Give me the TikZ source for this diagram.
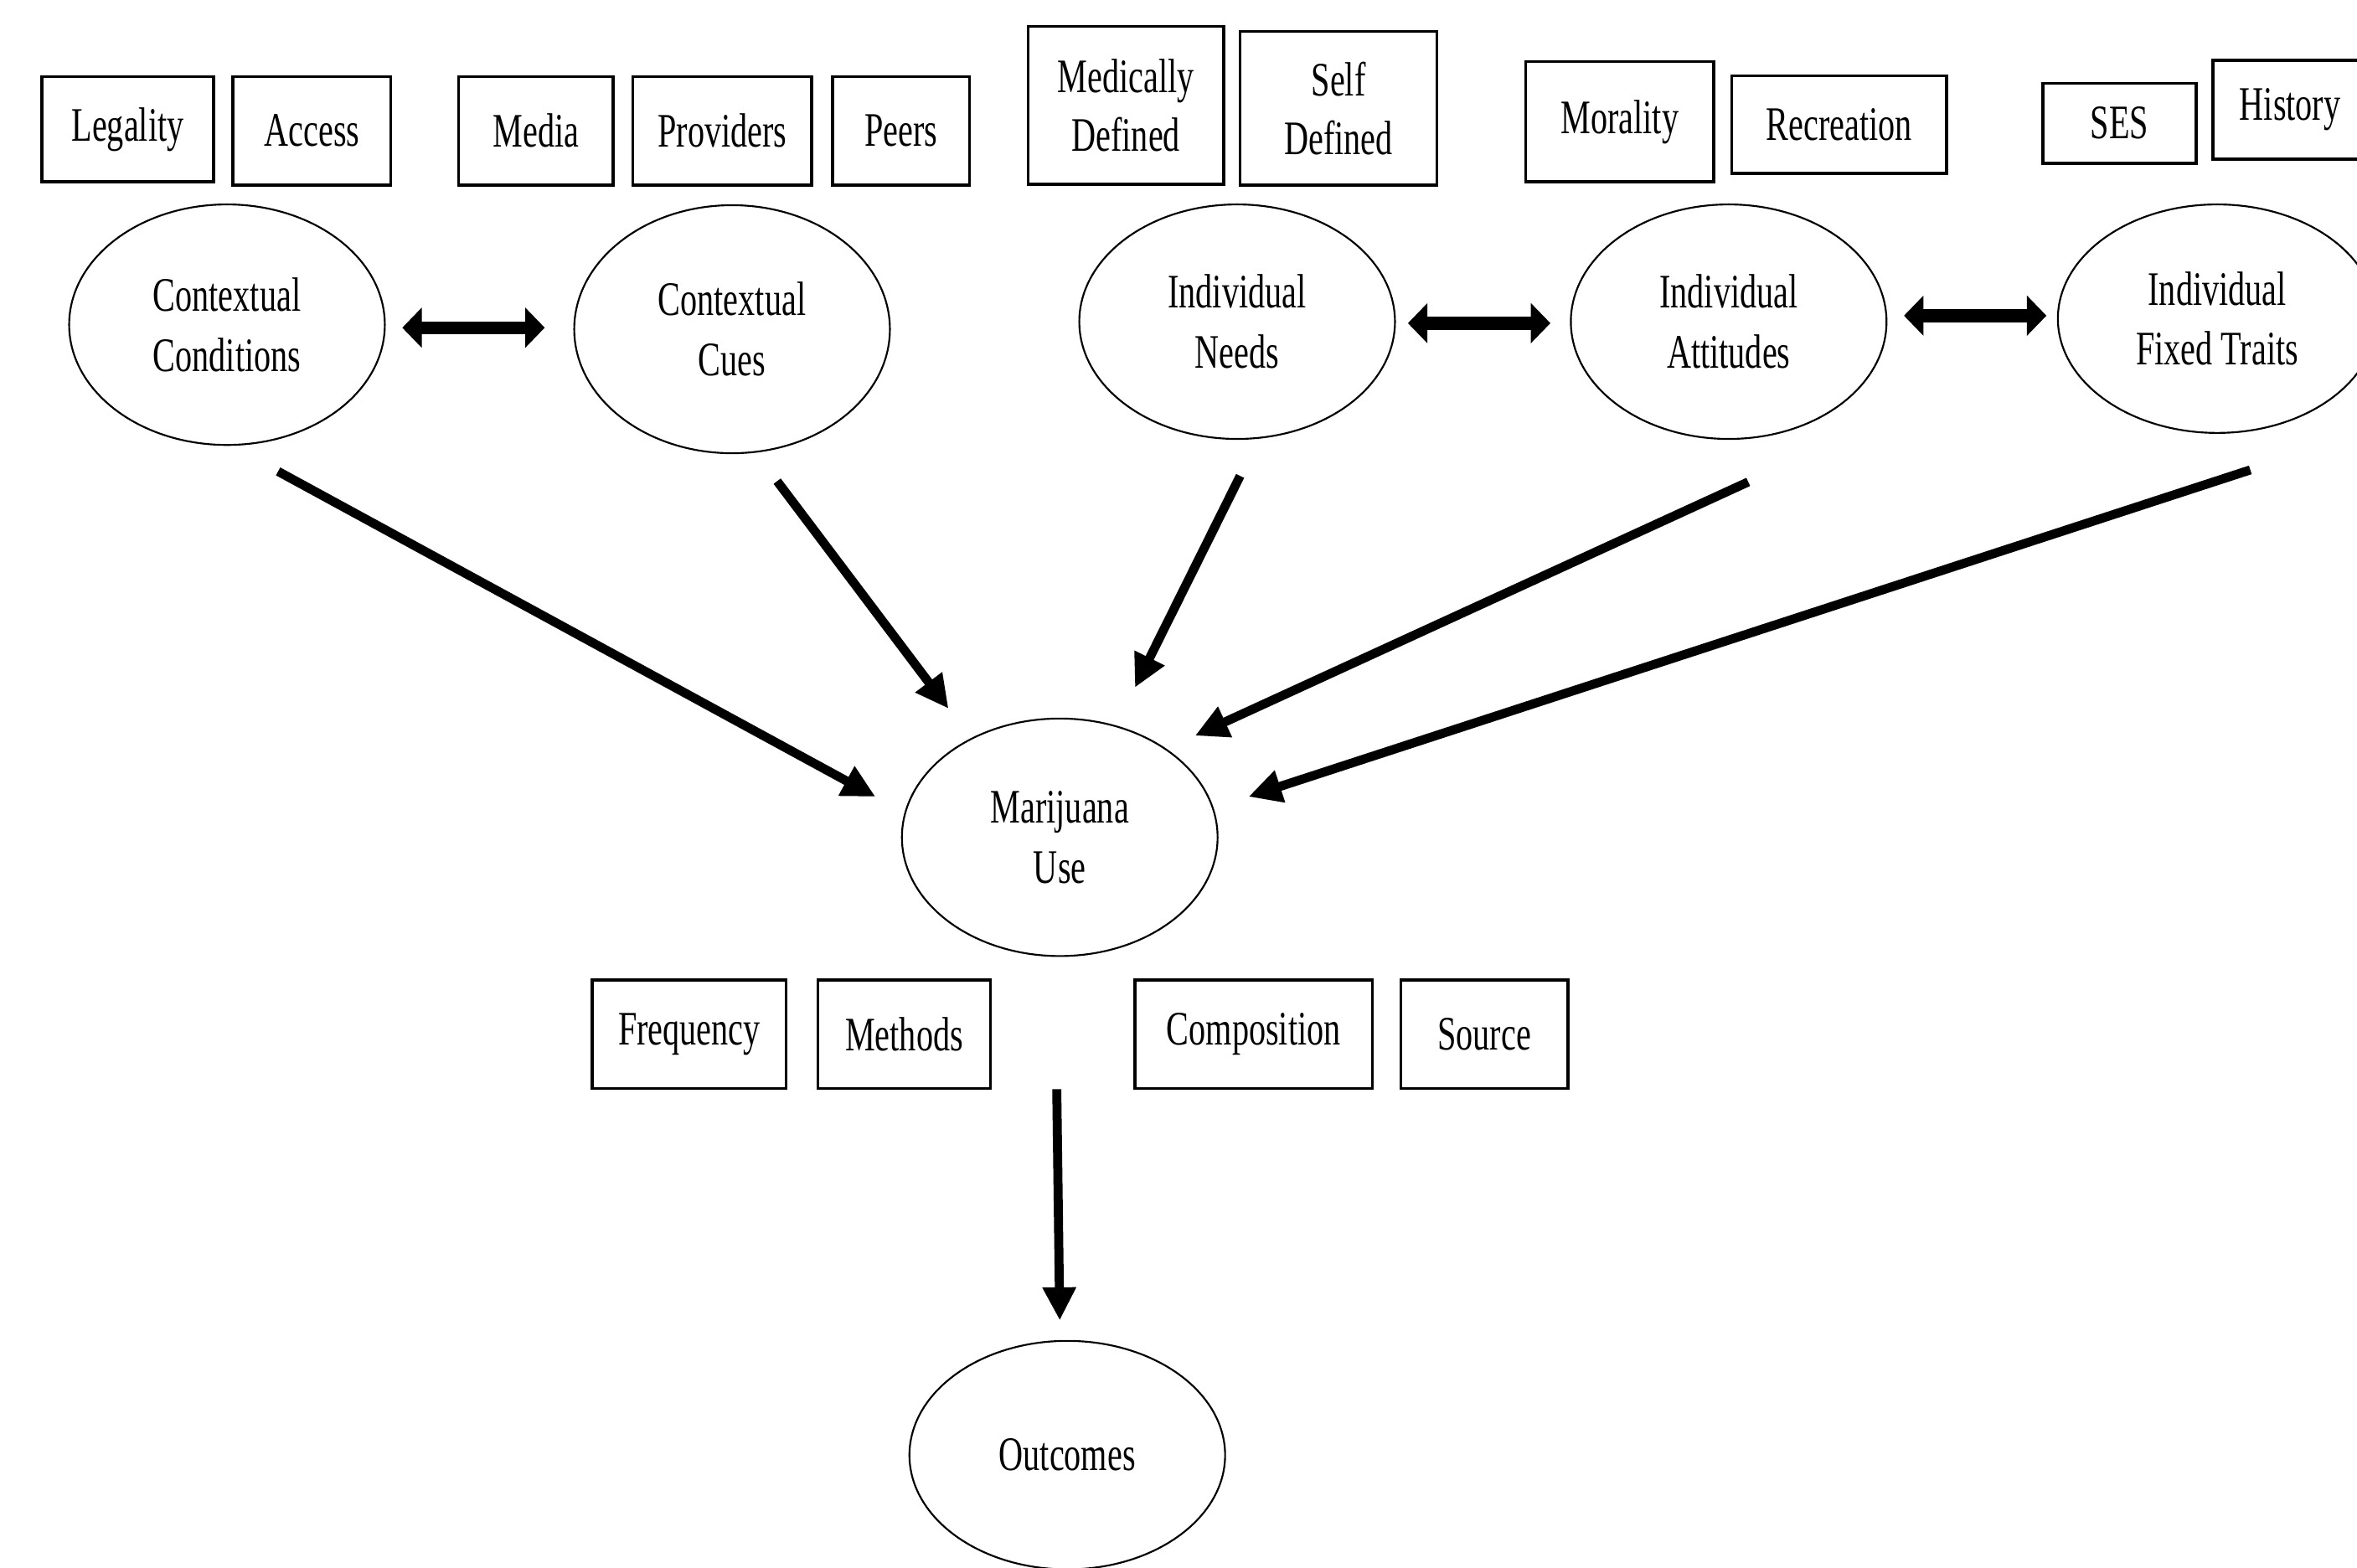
\documentclass[tikz,border=0pt]{standalone}
\usepackage{fontspec}
\setmainfont{Liberation Serif}[FakeStretch=0.7]
\usetikzlibrary{shapes.geometric,arrows.meta}

\begin{document}
\begin{tikzpicture}[x=0.5pt,y=0.5pt,yscale=-1,xscale=1,
	box/.style={draw,line width=1pt,inner sep=0pt,align=center,font=\fontsize{16}{19.5}\selectfont},
	ellip/.style={draw,ellipse,line width=0.6pt,minimum width=105pt,minimum height=80pt,inner sep=0pt,align=center,font=\fontsize{16}{20}\selectfont},
	arr/.style={line width=3pt,-{Triangle[length=11pt,width=10.5pt]}},
	dbl/.style={line width=4.3pt,{Triangle[length=6.5pt,width=13pt]}-{Triangle[length=6.5pt,width=13pt]}}]
						\useasboundingbox (0,0) rectangle (1568,1043);
						\clip (0,0) rectangle (1568,1043);

						% Top boxes
						\node (leg) at (85,86) [box,minimum width=57pt,minimum height=35pt] {Legality};
						\node (acc) at (207.5,87) [box,minimum width=52.5pt,minimum height=36pt] {Access};
						\node (med) at (356.5,87) [box,minimum width=51.5pt,minimum height=36pt] {Media};
						\node (prov) at (480.5,87) [box,minimum width=59.5pt,minimum height=36pt] {Providers};
						\node (peer) at (599.5,87) [box,minimum width=45.5pt,minimum height=36pt] {Peers};
						\node (mdef) at (749,70) [box,minimum width=65pt,minimum height=52.5pt] {Medically\\Defined};
						\node (sdef) at (890.5,72) [box,minimum width=65.5pt,minimum height=51pt] {Self\\Defined};
						\node (mor) at (1077.5,81) [box,minimum width=62.5pt,minimum height=40pt] {Morality};
						\node (rec) at (1223.5,83) [box,minimum width=71.5pt,minimum height=32.5pt] {Recreation};
						\node (ses) at (1410,82) [box,minimum width=51pt,minimum height=26.5pt] {SES};
						\node (hist) at (1523.5,73) [box,minimum width=51.5pt,minimum height=33pt] {History};

						%Shape: Ellipse
						\node (cc) at (151,216) [ellip] {Contextual\\Conditions};
						\node (cues) at (487,219) [ellip,minimum height=82.5pt] {Contextual\\Cues};
						\node (need) at (823,214) [ellip,minimum height=78pt] {Individual\\Needs};
						\node (att) at (1150,214) [ellip,minimum height=78pt] {Individual\\Attitudes};
						\node (trait) at (1475,212) [ellip,minimum width=106pt,minimum height=76pt] {Individual\\Fixed Traits};
						\node (mu) at (705,557) [ellip,minimum height=79pt] {Marijuana\\Use};
						\node (out) at (710,968) [ellip,minimum height=76pt] {Outcomes};

						% Bottom boxes
						\node (freq) at (458.5,688) [box,minimum width=64.5pt,minimum height=36pt] {Frequency};
						\node (meth) at (601.5,688) [box,minimum width=57.5pt,minimum height=36pt] {Methods};
						\node (comp) at (834,688) [box,minimum width=79pt,minimum height=36pt] {Composition};
						\node (src) at (987.5,688) [box,minimum width=55.5pt,minimum height=36pt] {Source};

						% Double arrows
						\draw [dbl] ([shift={(11,2)}]cc.east) -- ([shift={(-19,-1)}]cues.west);
						\draw [dbl] ([shift={(8,1)}]need.east) -- ([shift={(-13,1)}]att.west);
						\draw [dbl] ([shift={(11,-4)}]att.east) -- ([shift={(-7,-2)}]trait.west);

						% Arrows
						\draw [arr] ([shift={(34,17)}]cc.south) -- ([shift={(-17,-27)}]mu.west);
						\draw [arr] ([shift={(30,18)}]cues.south) -- ([shift={(-74,-6)}]mu.north);
						\draw [arr] ([shift={(2,24)}]need.south) -- ([shift={(50,-20)}]mu.north);
						\draw [arr] ([shift={(13,28)}]att.south) -- ([shift={(90,12)}]mu.north);
						\draw [arr] ([shift={(22,24)}]trait.south) -- ([shift={(20,-27)}]mu.east);
						\draw [arr] ([shift={(-2,88)}]mu.south) -- ([shift={(-5,-13)}]out.north);
\end{tikzpicture}
\end{document}
